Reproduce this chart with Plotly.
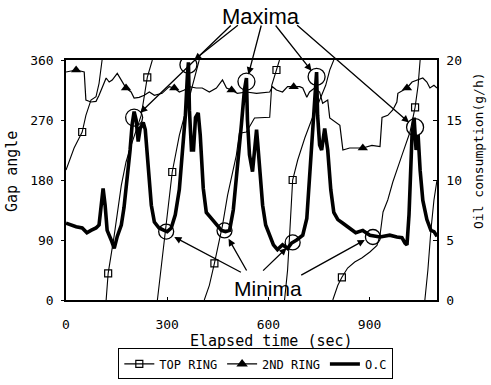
import plotly.graph_objects as go

# ---------------- data ----------------
# TOP RING gap angle (deg), segments wrap at 360 -> separated by None
top_t = [0, 9, 24, 39, 48, 59, 74, 89, 98, 107, None,
         119, 125, 143, 152, 164, 178, 193, 223, 241, 256, None,
         271, 291, 315, 336, 360, 381, 395, None,
         410, 425, 440, 449, 464, 479, 491, 505, 514, 535, 559, 604, 610, 624, 633, None,
         648, 657, 663, 672, 687, 708, 728, 752, 770, 782, 794, None,
         791, 806, 818, 835, 856, 877, 901, 922, 931, 940, 954, 969, 996, 1020, 1035, 1044, 1050, None,
         1064, 1073, 1082, 1091, 1100]
top_ang = [195, 207, 228, 243, 252, 277, 300, 305, 325, 360, None,
           0, 40, 97, 132, 172, 207, 232, 277, 334, 360, None,
           0, 90, 192, 247, 292, 330, 360, None,
           0, 22, 55, 78, 112, 157, 187, 217, 250, 252, 273, 274, 322, 345, 360, None,
           0, 45, 97, 180, 210, 243, 270, 300, 322, 345, 360, None,
           0, 22, 34, 48, 57, 63, 72, 82, 97, 132, 150, 177, 217, 252, 289, 322, 360, None,
           0, 45, 105, 150, 180]
top_marker_t = [48, 125, 241, 315, 440, 624, 672, 818, 1035]

# 2ND RING gap angle (deg)
sec_t = [0, 30, 54, 59, 74, 89, 98, 107, 119, 128, 137, 152, 164, 178, 193, 202, 217, 232,
         247, 262, 285, 306, 321, 336, 351, 366, 386, 404, 425, 446, 464, 476, 491, 508,
         535, 565, 604, 612, 624, 642, 657, 675, 693, 702, 714, 722, 737, 752, 761, 776,
         782, 812, 818, 821, 841, 880, 907, 931, 937, 954, 969, 981, 984, 1011, 1026,
         1041, 1058, 1070, 1079, 1091, 1100]
sec_ang = [342, 345, 342, 300, 297, 298, 307, 318, 333, 327, 330, 340, 330, 318, 312, 303, 304, 307,
           312, 307, 310, 320, 318, 312, 315, 320, 318, 318, 312, 318, 330, 318, 315, 310,
           312, 310, 312, 320, 315, 312, 320, 320, 320, 318, 304, 312, 318, 312, 295, 300,
           273, 262, 232, 225, 228, 228, 232, 230, 274, 277, 285, 297, 310, 318, 327,
           330, 333, 327, 318, 322, 318]
sec_marker_t = [30, 178, 321, 491, 675, 880, 1011]

# O.C oil consumption (g/h)
oc_t = [0, 15, 30, 48, 62, 74, 89, 98, 104, 110, 116, 122, 134, 143, 152, 164, 172, 181, 190,
        196, 202, 208, 214, 220, 229, 235, 244, 253, 262, 276, 291, 300, 312, 324, 336, 345,
        354, 360, 363, 366, 372, 378, 384, 392, 398, 407, 416, 431, 446, 461, 473, 485, 496,
        508, 520, 529, 535, 538, 544, 553, 559, 565, 568, 574, 583, 592, 604, 615, 627, 642,
        657, 669, 684, 702, 714, 720, 728, 737, 743, 746, 752, 758, 767, 776, 785, 794, 806,
        821, 841, 859, 880, 901, 931, 960, 981, 996, 1005, 1011, 1017, 1020, 1026, 1032,
        1038, 1044, 1050, 1058, 1070, 1082, 1091, 1100]
oc_val = [6.4, 6.25, 6.1, 6.0, 5.6, 5.8, 6.0, 6.25, 7.5, 9.3, 7.9, 5.8, 5.0, 4.3, 5.3, 6.25, 7.7, 9.8, 12.5,
          14.6, 15.7, 15.0, 13.2, 14.3, 14.8, 14.2, 10.8, 7.9, 6.5, 6.0, 5.8, 5.7, 6.0, 7.1, 9.2, 12.1,
          15.4, 18.75, 19.8, 15.8, 12.5, 12.5, 15.2, 15.6, 13.75, 9.3, 7.3, 6.8, 6.25, 5.8, 5.7, 5.8, 7.5,
          10.8, 14.6, 17.5, 18.5, 15.0, 12.1, 10.7, 12.5, 14.2, 13.2, 10.7, 7.9, 6.25, 5.4, 4.6, 4.2, 4.6,
          4.3, 4.75, 5.0, 5.4, 6.8, 9.2, 12.5, 15.8, 19.0, 15.4, 12.9, 12.5, 14.3, 12.5, 9.2, 7.3, 6.7,
          6.4, 6.0, 5.6, 5.8, 5.4, 5.25, 5.4, 5.25, 5.2, 4.75, 4.6, 7.1, 10.0, 13.75, 15.2,
          12.5, 13.75, 10.8, 8.3, 6.7, 5.8, 5.7, 5.3]

# annotation markers (circle centres, in t / g/h)
maxima_t = [202, 363, 535, 743, 1035]
maxima_oc = [15.2, 19.6, 18.2, 18.6, 14.4]
minima_t = [297, 470, 672, 910]
minima_oc = [5.7, 5.8, 4.8, 5.25]

# arrows: (tail_t, tail_oc, tip_t, tip_oc)
maxima_arrows = [(493, 23.0, 220, 15.6), (514, 23.0, 380, 20.0), (580, 23.0, 541, 18.8),
                 (618, 23.0, 728, 19.1), (681, 23.0, 1017, 14.8)]
minima_arrows = [(523, 2.25, 321, 5.25), (538, 2.33, 482, 5.1), (580, 2.33, 654, 4.33),
                 (693, 2.0, 886, 5.0)]

x_ticks = [0, 300, 600, 900]
y_ticks = [0, 90, 180, 270, 360]
y2_ticks = [0, 5, 10, 15, 20]

FONT = "DejaVu Sans Mono"

# ---------------- figure ----------------
fig = go.Figure()

fig.add_trace(go.Scatter(x=top_t, y=top_ang, mode="lines", line=dict(color="black", width=1.1),
                         showlegend=False, connectgaps=False))
tmap = {t: a for t, a in zip(top_t, top_ang) if t is not None}
fig.add_trace(go.Scatter(x=top_marker_t, y=[tmap[t] for t in top_marker_t], mode="markers",
                         marker=dict(symbol="square-open", size=7, color="black", line=dict(width=1.2)),
                         showlegend=False))

fig.add_trace(go.Scatter(x=sec_t, y=sec_ang, mode="lines", line=dict(color="black", width=1.2),
                         showlegend=False))
smap = dict(zip(sec_t, sec_ang))
fig.add_trace(go.Scatter(x=sec_marker_t, y=[smap[t] for t in sec_marker_t], mode="markers",
                         marker=dict(symbol="triangle-up", size=9, color="black"),
                         showlegend=False))

fig.add_trace(go.Scatter(x=oc_t, y=oc_val, mode="lines", yaxis="y2",
                         line=dict(color="black", width=3.6), showlegend=False))

# legend entries
fig.add_trace(go.Scatter(x=[None], y=[None], mode="lines+markers", name="TOP RING",
                         line=dict(color="black", width=1.2),
                         marker=dict(symbol="square-open", size=7, color="black", line=dict(width=1.2))))
fig.add_trace(go.Scatter(x=[None], y=[None], mode="lines+markers", name="2ND RING",
                         line=dict(color="black", width=1.2),
                         marker=dict(symbol="triangle-up", size=10, color="black")))
fig.add_trace(go.Scatter(x=[None], y=[None], mode="lines", name="O.C",
                         line=dict(color="black", width=3.5)))

shapes = []
for t, v in list(zip(maxima_t, maxima_oc)):
    shapes.append(dict(type="circle", xref="x", yref="y2", xsizemode="pixel", ysizemode="pixel",
                       xanchor=t, yanchor=v, x0=-8.5, x1=8.5, y0=-8.5, y1=8.5,
                       line=dict(color="black", width=1.3)))
for t, v in list(zip(minima_t, minima_oc)):
    shapes.append(dict(type="circle", xref="x", yref="y2", xsizemode="pixel", ysizemode="pixel",
                       xanchor=t, yanchor=v, x0=-7.5, x1=7.5, y0=-7.5, y1=7.5,
                       line=dict(color="black", width=1.3)))

annotations = []
for (at, av, tt, tv) in maxima_arrows + minima_arrows:
    annotations.append(dict(x=tt, y=tv, xref="x", yref="y2", ax=at, ay=av, axref="x", ayref="y2",
                            text="", showarrow=True, arrowhead=2, arrowsize=1.1, arrowwidth=1.3,
                            arrowcolor="black"))

common = dict(xref="paper", yref="paper", showarrow=False, xanchor="center", yanchor="middle")
annotations += [
    dict(text="Maxima", x=0.5256, y=1.183, font=dict(family="Liberation Sans", size=22, color="black"), **common),
    dict(text="Minima", x=0.5445, y=0.05, font=dict(family="Liberation Sans", size=21, color="black"), **common),
    dict(text="Gap angle", x=-0.1456, y=0.5375, textangle=-90,
         font=dict(family=FONT, size=15, color="black"), **common),
    dict(text="Oil consumption(g/h)", x=1.1105, y=0.625, textangle=-90,
         font=dict(family=FONT, size=13, color="black"), **common),
    dict(text="Elapsed time (sec)", x=0.5526, y=-0.171,
         font=dict(family=FONT, size=15, color="black"), **common),
]

fig.update_layout(
    width=491, height=385,
    margin=dict(l=66, r=54, t=60, b=85),
    paper_bgcolor="white", plot_bgcolor="white",
    font=dict(family=FONT, size=12, color="black"),
    xaxis=dict(range=[0, 1100], tickvals=x_ticks, showgrid=False, zeroline=False,
               showline=True, linecolor="black", linewidth=1.5, mirror=True,
               ticks="inside", ticklen=3, tickcolor="black", ticklabelstandoff=12,
               tickfont=dict(family=FONT, size=13)),
    yaxis=dict(range=[0, 360], tickvals=y_ticks, showgrid=False, zeroline=False,
               showline=True, linecolor="black", linewidth=1.5,
               ticks="outside", ticklen=3, tickcolor="black", ticklabelstandoff=5,
               tickfont=dict(family=FONT, size=13)),
    yaxis2=dict(range=[0, 20], tickvals=y2_ticks, overlaying="y", side="right",
                showgrid=False, zeroline=False, showline=True, linecolor="black", linewidth=1.5,
                ticks="inside", ticklen=4, tickcolor="black", ticklabelstandoff=5,
                tickfont=dict(family=FONT, size=13)),
    legend=dict(orientation="h", xref="container", yref="container",
                x=0.521, xanchor="center", y=0.095, yanchor="top",
                bordercolor="black", borderwidth=1, bgcolor="white",
                font=dict(family=FONT, size=12), itemwidth=30, tracegroupgap=0),
    shapes=shapes,
    annotations=annotations,
)

fig.write_html("out.html")
